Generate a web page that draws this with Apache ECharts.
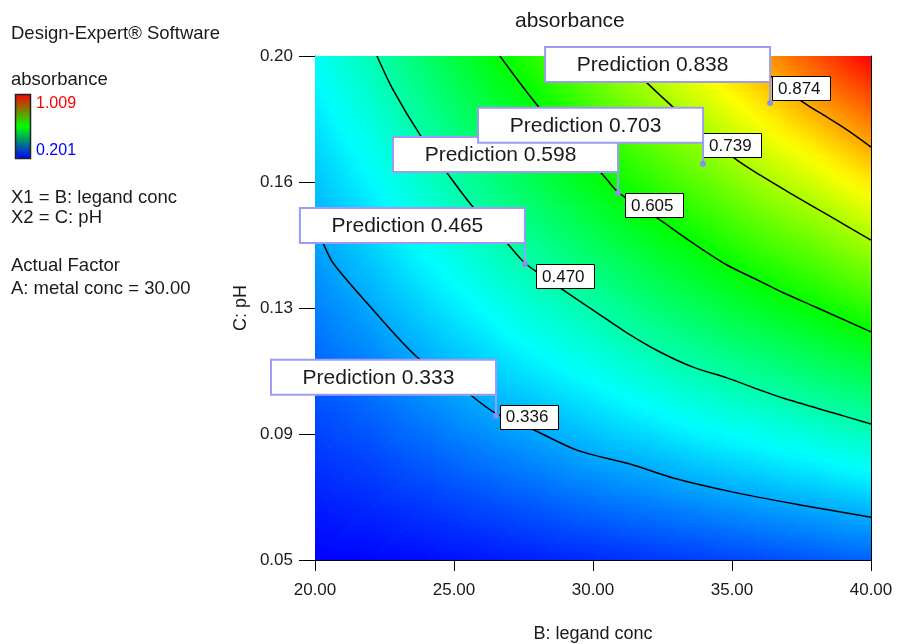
<!DOCTYPE html>
<html>
<head>
<meta charset="utf-8">
<script src="https://cdn.jsdelivr.net/npm/echarts@6/dist/echarts.min.js"></script>
<style>
html,body{margin:0;padding:0;background:#fff;}
#chart{width:900px;height:644px;}
</style>
</head>
<body>
<div id="chart"></div>
<script>
// ---------------- data ----------------
const xNodes = [20, 22, 24, 26, 28, 30, 32, 34, 36, 38, 40];            // B: legand conc
const yNodes = [0.05, 0.065, 0.08, 0.095, 0.11, 0.125, 0.14, 0.155, 0.17, 0.185, 0.2]; // C: pH
// absorbance estimated at each grid node, one row per yNodes entry (bottom to top)
const absorbance = [
  [0.201, 0.205, 0.211, 0.218, 0.226, 0.234, 0.243, 0.251, 0.260, 0.270, 0.280],
  [0.221, 0.231, 0.243, 0.256, 0.269, 0.283, 0.295, 0.308, 0.321, 0.333, 0.347],
  [0.242, 0.256, 0.275, 0.294, 0.312, 0.332, 0.348, 0.367, 0.383, 0.401, 0.420],
  [0.262, 0.282, 0.307, 0.332, 0.355, 0.378, 0.402, 0.426, 0.446, 0.469, 0.492],
  [0.283, 0.308, 0.339, 0.368, 0.398, 0.424, 0.456, 0.484, 0.510, 0.537, 0.566],
  [0.303, 0.334, 0.370, 0.404, 0.440, 0.470, 0.508, 0.540, 0.574, 0.605, 0.640],
  [0.324, 0.360, 0.401, 0.441, 0.481, 0.518, 0.559, 0.596, 0.637, 0.672, 0.714],
  [0.345, 0.385, 0.432, 0.477, 0.521, 0.565, 0.611, 0.653, 0.699, 0.739, 0.787],
  [0.366, 0.411, 0.462, 0.513, 0.561, 0.613, 0.664, 0.710, 0.761, 0.809, 0.860],
  [0.388, 0.437, 0.493, 0.549, 0.600, 0.661, 0.717, 0.768, 0.823, 0.879, 0.934],
  [0.410, 0.462, 0.523, 0.585, 0.641, 0.709, 0.770, 0.826, 0.884, 0.946, 1.009]
];
const rangeMin = 0.201;
const rangeMax = 1.009;

// contour lines: [B, C]
const contour336 = [[20.0,0.149],[20.29,0.1443],[20.65,0.1384],[21.87,0.1265],[23.67,0.1104],[25.22,0.1015],[26.47,0.0938],[27.73,0.0893],[29.42,0.0827],[31.44,0.0783],[32.88,0.0744],[35.04,0.0702],[37.45,0.0664],[40,0.0627]];
const contour470 = [[22.23,0.2],[22.81,0.1899],[23.78,0.1765],[24.75,0.1652],[25.68,0.1551],[26.91,0.1443],[27.55,0.1384],[28.92,0.1304],[30.0,0.1244],[31.22,0.1176],[32.41,0.1119],[33.6,0.1074],[34.82,0.1042],[36.0,0.1006],[36.83,0.0982],[38.63,0.0938],[40,0.0905]];
const contour605 = [[26.65,0.2],[27.99,0.1854],[29.2,0.1742],[30.36,0.1646],[30.9,0.1595],[32.3,0.1518],[33.6,0.1443],[34.82,0.1378],[36.0,0.1330],[36.73,0.1300],[38.0,0.1253],[40,0.1179]];
const contour739 = [[30.97,0.2],[31.94,0.192],[32.88,0.1848],[34.03,0.1765],[35.18,0.169],[36.0,0.1646],[37.09,0.1592],[38.63,0.1518],[40,0.1452]];
const contour874 = [[35.61,0.2],[36.55,0.1929],[37.55,0.1863],[38.42,0.1818],[39.14,0.178],[40,0.1729]];
const contourLevels = [0.336, 0.470, 0.605, 0.739, 0.874];
const contourLines = [contour336, contour470, contour605, contour739, contour874];

// contour value labels: [B, C, level]
const contourLabels = [[26.65,0.0927,0.336],[27.95,0.1344,0.470],[31.15,0.1557,0.605],[33.96,0.1735,0.739],[36.44,0.1905,0.874]];
// prediction flags: [B, C, predicted absorbance]
const predictions = [[26.51,0.0929,0.333],[27.55,0.1381,0.465],[30.9,0.1592,0.598],[33.96,0.1679,0.703],[36.37,0.186,0.838]];

const xTickValues = [20, 25, 30, 35, 40];
const xTickLabels = ['20.00', '25.00', '30.00', '35.00', '40.00'];
const yTickValues = [0.05, 0.0875, 0.125, 0.1625, 0.2];
const yTickLabels = ['0.05', '0.09', '0.13', '0.16', '0.20'];

// ---------------- styling helpers ----------------
const FONT = '"Liberation Sans", Arial, Helvetica, sans-serif';
const rampStops = [[0, [0, 0, 255]], [0.25, [0, 255, 255]], [0.5, [0, 255, 0]], [0.75, [255, 255, 0]], [1, [255, 0, 0]]];
function cmap(v) {
  let t = (v - rangeMin) / (rangeMax - rangeMin);
  t = Math.max(0, Math.min(1, t));
  for (let k = 1; k < rampStops.length; k++) {
    if (t <= rampStops[k][0] || k === rampStops.length - 1) {
      const [t0, c0] = rampStops[k - 1], [t1, c1] = rampStops[k];
      const f = (t - t0) / (t1 - t0);
      const c = c0.map((a, i) => Math.round(a + (c1[i] - a) * f));
      return 'rgb(' + c.join(',') + ')';
    }
  }
}
function triFill(t) {
  const [x0, y0, v0] = t[0], [x1, y1, v1] = t[1], [x2, y2, v2] = t[2];
  const dx1 = x1 - x0, dy1 = y1 - y0, dx2 = x2 - x0, dy2 = y2 - y0;
  const dv1 = v1 - v0, dv2 = v2 - v0;
  const det = dx1 * dy2 - dx2 * dy1;
  const vmin = Math.min(v0, v1, v2), vmax = Math.max(v0, v1, v2);
  if (Math.abs(det) < 1e-9 || vmax - vmin < 1e-7) return cmap((v0 + v1 + v2) / 3);
  const a = (dv1 * dy2 - dv2 * dy1) / det;
  const b = (dx1 * dv2 - dx2 * dv1) / det;
  const g2 = a * a + b * b;
  const k = [v0, v1, v2].indexOf(vmin);
  const sx = t[k][0], sy = t[k][1];
  const d = (vmax - vmin) / g2;
  const stops = [];
  for (let s = 0; s <= 6; s++) {
    const f = s / 6;
    stops.push({ offset: f, color: cmap(vmin + f * (vmax - vmin)) });
  }
  return new echarts.graphic.LinearGradient(sx, sy, sx + a * d, sy + b * d, stops, true);
}

// field cells: lower-left node of every cell
const cellData = [];
for (let j = 0; j < yNodes.length - 1; j++) {
  for (let i = 0; i < xNodes.length - 1; i++) {
    cellData.push([xNodes[i], yNodes[j], absorbance[j][i], i, j]);
  }
}

function renderCell(params, api) {
  const i = api.value(3), j = api.value(4);
  const c = [[i, j], [i + 1, j], [i + 1, j + 1], [i, j + 1]].map(([a, b]) => {
    const p = api.coord([xNodes[a], yNodes[b]]);
    return [p[0], p[1], absorbance[b][a]];
  });
  const tris = [[c[0], c[1], c[2]], [c[0], c[2], c[3]]];
  return {
    type: 'group',
    children: tris.map(t => {
      const fill = triFill(t);
      return {
        type: 'polygon',
        shape: { points: t.map(p => [p[0], p[1]]) },
        style: { fill: fill, stroke: fill, lineWidth: 1 }
      };
    })
  };
}

function renderContourLabel(params, api) {
  const p = api.coord([api.value(0), api.value(1)]);
  const w = 58, h = 24;
  return {
    type: 'group',
    children: [
      { type: 'rect', shape: { x: Math.round(p[0]) + 0.5, y: Math.round(p[1] - h / 2) + 0.5, width: w, height: h },
        style: { fill: '#ffffff', stroke: '#000000', lineWidth: 1 } },
      { type: 'text', x: p[0] + 6, y: p[1] + 1,
        style: { text: api.value(2).toFixed(3), font: '17px ' + FONT, fill: '#111111',
                 align: 'left', verticalAlign: 'middle' } }
    ]
  };
}

function renderFlag(params, api) {
  const p = api.coord([api.value(0), api.value(1)]);
  const w = 225, h = 35, gap = 21;
  const col = '#9c9cf6';
  return {
    type: 'group',
    children: [
      { type: 'rect', shape: { x: p[0] - w, y: p[1] - gap - h, width: w, height: h },
        style: { fill: '#ffffff', stroke: col, lineWidth: 2 } },
      { type: 'text', x: p[0] - w / 2 - 5, y: p[1] - gap - h / 2 + 1,
        style: { text: 'Prediction ' + api.value(2).toFixed(3), font: '21px ' + FONT, fill: '#1a1a1a',
                 align: 'center', verticalAlign: 'middle' } },
      { type: 'line', shape: { x1: p[0], y1: p[1] - gap, x2: p[0], y2: p[1] },
        style: { stroke: col, lineWidth: 2 } },
      { type: 'circle', shape: { cx: p[0], cy: p[1], r: 3 }, style: { fill: '#8c8cf2' } }
    ]
  };
}

const series = [
  {
    name: 'absorbance', type: 'custom', renderItem: renderCell, data: cellData,
    encode: { x: 0, y: 1 }, clip: true, z: 1, silent: true
  }
];
contourLines.forEach((pts, k) => {
  series.push({
    name: 'contour ' + contourLevels[k].toFixed(3), type: 'line', data: pts,
    showSymbol: false, smooth: 0.3, z: 2, silent: true,
    lineStyle: { color: '#000', width: 1.5 }
  });
});
series.push({
  name: 'contour labels', type: 'custom', renderItem: renderContourLabel, data: contourLabels,
  encode: { x: 0, y: 1 }, clip: false, z: 3, silent: true
});
series.push({
  name: 'predictions', type: 'custom', renderItem: renderFlag, data: predictions,
  encode: { x: 0, y: 1 }, clip: false, z: 4, silent: true
});

const axisText = { fontFamily: FONT, fontSize: 17, color: '#1a1a1a' };
const chart = echarts.init(document.getElementById('chart'), null, { renderer: 'canvas' });
chart.setOption({
  animation: false,
  backgroundColor: '#fff',
  title: {
    text: 'absorbance', left: 510, top: 6,
    textStyle: { fontFamily: FONT, fontSize: 21, fontWeight: 'normal', color: '#1a1a1a' }
  },
  grid: { left: 315, right: 29, top: 56, bottom: 84, outerBoundsMode: 'none', containLabel: false },
  xAxis: [
    {
      type: 'value', min: 20, max: 40,
      name: 'B: legand conc', nameLocation: 'middle', nameGap: 65, nameMoveOverlap: false,
      nameTextStyle: { fontFamily: FONT, fontSize: 18, color: '#1a1a1a' },
      axisLine: { show: true, onZero: false, lineStyle: { color: '#000', width: 1 } },
      axisTick: { show: true, customValues: xTickValues, length: 11, lineStyle: { color: '#000' } },
      axisLabel: Object.assign({ customValues: xTickValues, margin: 22,
        formatter: v => xTickLabels[xTickValues.indexOf(v)] }, axisText),
      splitLine: { show: false }
    },
    {
      type: 'value', min: 20, max: 40, position: 'top',
      axisLine: { show: true, onZero: false, lineStyle: { color: '#000', width: 1 } },
      axisTick: { show: false }, axisLabel: { show: false }, splitLine: { show: false }
    }
  ],
  yAxis: [
    {
      type: 'value', min: 0.05, max: 0.2,
      name: 'C: pH', nameLocation: 'middle', nameGap: 65, nameMoveOverlap: false,
      nameTextStyle: { fontFamily: FONT, fontSize: 18, color: '#1a1a1a' },
      axisLine: { show: true, onZero: false, lineStyle: { color: '#000', width: 1 } },
      axisTick: { show: true, customValues: yTickValues, length: 16, lineStyle: { color: '#000' } },
      axisLabel: Object.assign({ customValues: yTickValues, margin: 22,
        formatter: v => {
          let best = 0;
          yTickValues.forEach((t, k) => { if (Math.abs(t - v) < Math.abs(yTickValues[best] - v)) best = k; });
          return yTickLabels[best];
        } }, axisText),
      splitLine: { show: false }
    },
    {
      type: 'value', min: 0.05, max: 0.2, position: 'right',
      axisLine: { show: true, onZero: false, lineStyle: { color: '#000', width: 1 } },
      axisTick: { show: false }, axisLabel: { show: false }, splitLine: { show: false }
    }
  ],
  visualMap: {
    type: 'continuous', min: rangeMin, max: rangeMax, dimension: 2, seriesIndex: 0,
    left: 16, top: 94, itemWidth: 15, itemHeight: 65, calculable: false, padding: 0,
    text: null, hoverLink: false,
    inRange: { color: ['#0000ff', '#00ff00', '#ff0000'] }
  },
  graphic: [
    { type: 'text', left: 11, top: 24, style: { text: 'Design-Expert® Software', font: '18.5px ' + FONT, fill: '#1a1a1a' } },
    { type: 'text', left: 11, top: 70, style: { text: 'absorbance', font: '18.5px ' + FONT, fill: '#1a1a1a' } },
    { type: 'rect', shape: { x: 15.5, y: 94.5, width: 15, height: 64 }, style: { fill: 'none', stroke: '#222', lineWidth: 1.5 }, z: 100 },
    { type: 'text', left: 36, top: 96, style: { text: rangeMax.toFixed(3), font: '16px ' + FONT, fill: '#ff0000' } },
    { type: 'text', left: 36, top: 143, style: { text: rangeMin.toFixed(3), font: '16px ' + FONT, fill: '#0000ff' } },
    { type: 'text', left: 11, top: 188, style: { text: 'X1 = B: legand conc', font: '18.5px ' + FONT, fill: '#1a1a1a' } },
    { type: 'text', left: 11, top: 208, style: { text: 'X2 = C: pH', font: '18.5px ' + FONT, fill: '#1a1a1a' } },
    { type: 'text', left: 11, top: 256, style: { text: 'Actual Factor', font: '18.5px ' + FONT, fill: '#1a1a1a' } },
    { type: 'text', left: 11, top: 279, style: { text: 'A: metal conc = 30.00', font: '18.5px ' + FONT, fill: '#1a1a1a' } }
  ],
  series: series
});
</script>
</body>
</html>
